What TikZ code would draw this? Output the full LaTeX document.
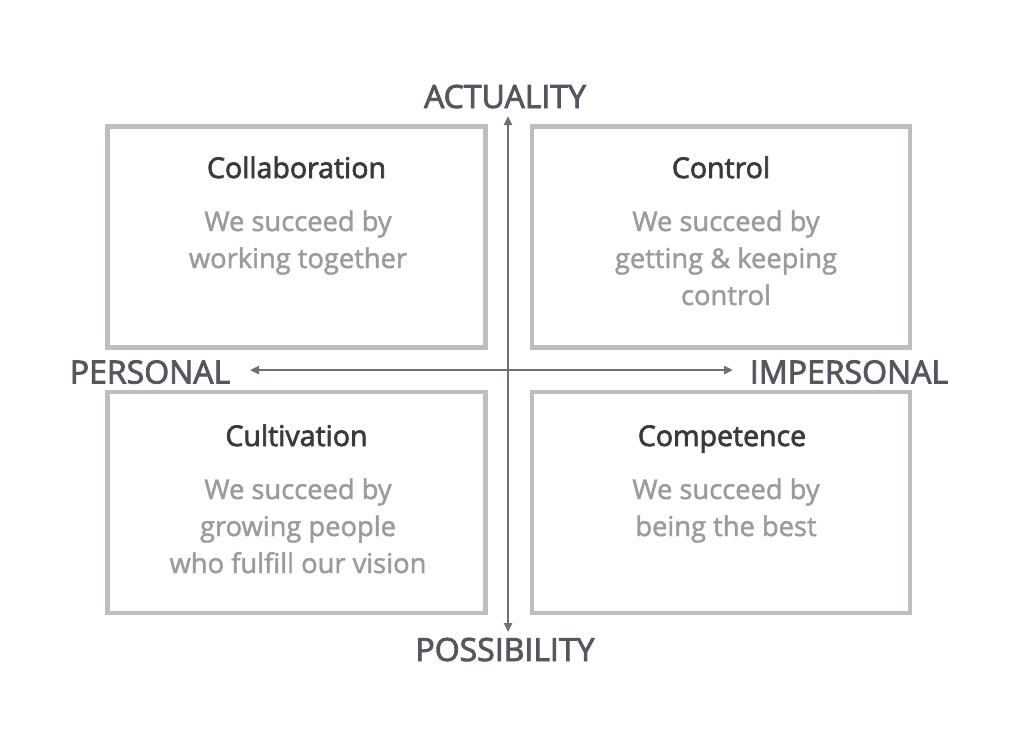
\documentclass[tikz,border=0pt]{standalone}
\usepackage{fontspec}
\setmainfont{Open Sans}
\newfontfamily\axisfont[FakeBold=2.6]{Open Sans}
\newfontfamily\titlefont[FakeBold=2.4]{Open Sans}
\newfontfamily\bodyfont[FakeBold=1.6]{Open Sans}
\usetikzlibrary{arrows.meta}
\definecolor{boxgray}{HTML}{BDBEC1}
\definecolor{titlecol}{HTML}{3A3A3C}
\definecolor{bodycol}{HTML}{9A9BA0}
\definecolor{axiscol}{HTML}{6E7077}
\definecolor{axlabel}{HTML}{55575E}
\tikzset{
  quad/.style={draw=boxgray, line width=4.5pt, minimum width=378pt, minimum height=221pt, inner sep=0pt},
  qtitle/.style={font=\titlefont\fontsize{28.5}{32}\selectfont, text=titlecol, anchor=base, inner sep=0pt},
  qbody/.style={font=\bodyfont\fontsize{27.3}{37}\selectfont, text=bodycol, align=center, anchor=base, inner sep=0pt},
  axislbl/.style={font=\axisfont\fontsize{32}{36}\selectfont, text=axlabel, anchor=base, inner sep=0pt},
  axisline/.style={draw=axiscol, line width=2.5pt, {Triangle[length=9pt,width=8pt]}-{Triangle[length=9pt,width=8pt]}}
}
\begin{document}
\begin{tikzpicture}[x=1pt,y=-1pt]
\useasboundingbox[fill=white] (0,0) rectangle (1018,748);
\node[quad] (tl) at (296.5,237) {};
\node[quad] (tr) at (721,237) {};
\node[quad] (bl) at (296.5,502.5) {};
\node[quad] (br) at (721,502.5) {};

\node[qtitle] (tlt) at (296.5,178) {Collaboration};
\node[qbody] (tlb) at (298,268) {We succeed by\\working together};
\node[qtitle] (trt) at (721,178) {Control};
\node[qbody] (trb) at (726,305) {We succeed by\\getting \& keeping\\control};
\node[qtitle] (blt) at (296.5,446) {Cultivation};
\node[qbody] (blb) at (298,573) {We succeed by\\growing people\\who fulfill our vision};
\node[qtitle] (brt) at (722,446) {Competence};
\node[qbody] (brb) at (726,536) {We succeed by\\being the best};

\coordinate (vtop) at (508,116);
\coordinate (vbot) at (508,632);
\coordinate (hl) at (250,370);
\coordinate (hr) at (733,370);
\draw[axisline] (vbot) -- (vtop);
\draw[axisline] (hl) -- (hr);

\node[axislbl] (act) at (505,108) {ACTUALITY};
\node[axislbl] (pos) at (505,661) {POSSIBILITY};
\node[axislbl] (per) at (150,383.5) {PERSONAL};
\node[axislbl] (imp) at (849,383.5) {IMPERSONAL};
\end{tikzpicture}
\end{document}
